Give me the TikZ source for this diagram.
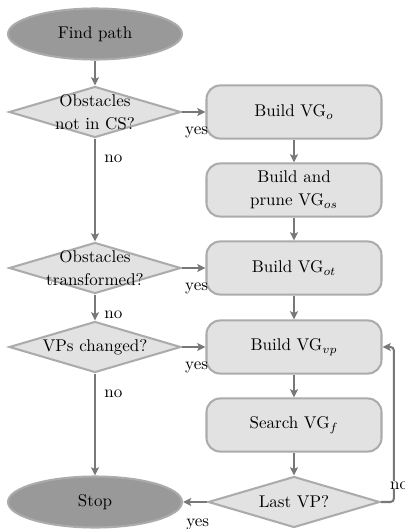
\documentclass[tikz,border=0pt]{standalone}
\usetikzlibrary{shapes.geometric,arrows.meta}
\definecolor{termfill}{HTML}{999999}
\definecolor{boxfill}{HTML}{E2E2E2}
\definecolor{edgegray}{HTML}{ABABAB}
\definecolor{linegray}{HTML}{787878}
\begin{document}
\begin{tikzpicture}[x=0.588pt,y=-0.588pt,
  terminal/.style={ellipse, draw=edgegray, fill=termfill, line width=1.2pt,
    minimum width=102.3pt, minimum height=30pt, inner sep=0pt},
  stepbox/.style={rectangle, rounded corners=8pt, draw=edgegray, fill=boxfill,
    line width=1.2pt, minimum width=102.9pt, minimum height=31.2pt,
    inner sep=0pt, align=center},
  decision/.style={diamond, draw=edgegray, fill=boxfill, line width=1.2pt,
    minimum width=101pt, minimum height=30pt, inner sep=0pt},
  dtext/.style={align=center, inner sep=0pt},
  arr/.style={draw=linegray, line width=1.2pt,
    -{Stealth[length=4.8pt,width=4.6pt,inset=1pt]}},
  tag/.style={inner sep=0pt, anchor=base west}]
\useasboundingbox (0,0) rectangle (405,529);

% left column: start, decisions, stop
\node[terminal] (find) at (95,34) {Find path};
\node[decision] (d1) at (95,112) {};
\node[dtext] (d1t) at (d1.center) {Obstacles\\[1.3pt]not in CS?};
\node[decision] (d2) at (95,268) {};
\node[dtext] (d2t) at (d2.center) {Obstacles\\[1.3pt]transformed?};
\node[decision] (d3) at (95,347) {};
\node[dtext] (d3t) at (d3.center) {VPs changed?};
\node[terminal] (stop) at (95,502) {Stop};

% right column: processing steps
\node[stepbox] (b1) at (294,112) {Build VG$_o$};
\node[stepbox] (b2) at (294,190) {Build and\\[1.3pt]prune VG$_{os}$};
\node[stepbox] (b3) at (294,268) {Build VG$_{ot}$};
\node[stepbox] (b4) at (294,347) {Build VG$_{vp}$};
\node[stepbox] (b5) at (294,425) {Search VG$_f$};
\node[decision] (last) at (294,502) {};
\node[dtext] (lastt) at (last.center) {Last VP?};

% connectors
\draw[arr] (find) -- (d1);
\draw[arr] (d1) -- (d2);
\draw[arr] (d2) -- (d3);
\draw[arr] (d3) -- (stop);
\draw[arr] (d1.east) -- (b1.west);
\draw[arr] (d2.east) -- (b3.west);
\draw[arr] (d3.east) -- (b4.west);
\draw[arr] (b1) -- (b2);
\draw[arr] (b2) -- (b3);
\draw[arr] (b3) -- (b4);
\draw[arr] (b4) -- (b5);
\draw[arr] (b5) -- (last);
\draw[arr] (last.west) -- (stop.east);
\draw[arr, rounded corners=2pt] (last.east) -- ++(13,0) |- (b4.east);

% branch labels
\node[tag] (y1) at ([shift={(3,22)}]d1.east) {yes};
\node[tag] (y2) at ([shift={(3,22)}]d2.east) {yes};
\node[tag] (y3) at ([shift={(3,22)}]d3.east) {yes};
\node[tag] (y4) at ([shift={(3,24)}]stop.east) {yes};
\node[tag] (n1) at ([shift={(9,24)}]d1.south) {no};
\node[tag] (n2) at ([shift={(9,24)}]d2.south) {no};
\node[tag] (n3) at ([shift={(9,24)}]d3.south) {no};
\node[tag, fill=white] (n4) at ([shift={(9,-13)}]last.east) {no};
\end{tikzpicture}
\end{document}
